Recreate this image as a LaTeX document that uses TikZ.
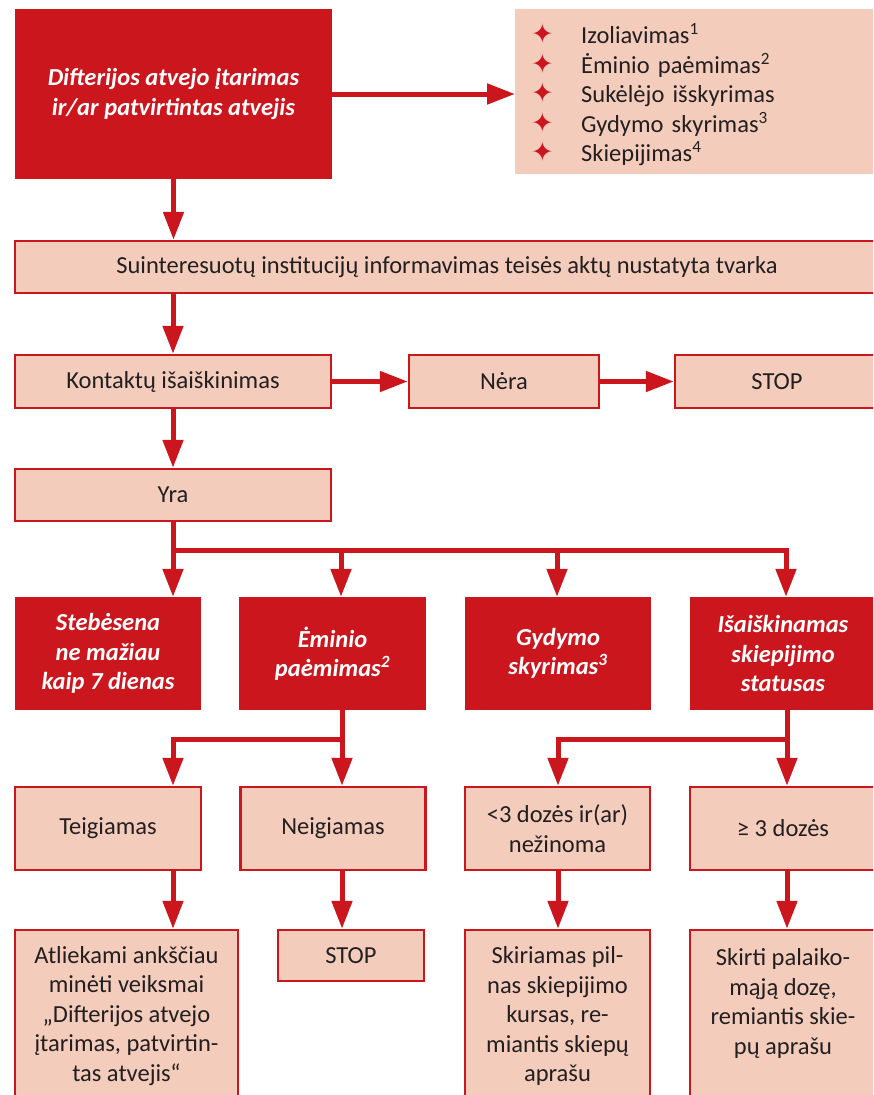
\documentclass[tikz,border=0pt]{standalone}
\usepackage{fontspec}
\setmainfont{Carlito}
\newfontfamily\dejavu{DejaVu Sans}
\usetikzlibrary{arrows.meta}
\definecolor{rd}{RGB}{204,22,30}
\definecolor{pk}{RGB}{243,204,188}
\definecolor{txt}{RGB}{35,31,32}
\newcommand{\fs}{\fontsize{24.5}{29.5}\selectfont}
\newcommand{\zv}{\makebox[50pt][l]{\dejavu\bfseries\color{rd}\fontsize{27}{29.5}\selectfont ✦}}
\begin{document}
\begin{tikzpicture}[x=1pt,y=-1pt,
	rbox/.style={fill=rd,text=white,font=\fs\bfseries\itshape,align=center,inner sep=0pt},
	lbox/.style={fill=pk,draw=rd,line width=2.5pt,text=txt,font=\fs,align=center,inner sep=0pt},
	ln/.style={draw=rd,line width=5pt},
	arr/.style={ln,-{Triangle[width=20pt,length=28pt]}}]
	\useasboundingbox (0,0) rectangle (873,1095);
	\clip (0,0) rectangle (873,1095);
	\node [rbox,minimum width=317,minimum height=170] (dift) at (173.5,94) {Difterijos atvejo įtarimas\\ir/ar patvirtintas atvejis};
	\node [fill=pk,text=txt,font=\fs,minimum width=365,minimum height=165,inner xsep=16pt,text width=333,align=left,anchor=north west] (veiks) at (515,9)
		{\raisebox{-5pt}[\height][\depth]{\begin{tabular}{@{}l@{}l@{}}
		\zv & Izoliavimas\textsuperscript{1}\\
		\zv & Ėminio paėmimas\textsuperscript{2}\\
		\zv & Sukėlėjo išskyrimas\\
		\zv & Gydymo skyrimas\textsuperscript{3}\\
		\zv & Skiepijimas\textsuperscript{4}
		\end{tabular}}};
	\node [lbox,minimum width=864,minimum height=52] (suint) at (447,267) {Suinteresuotų institucijų informavimas teisės aktų nustatyta tvarka};
	\node [lbox,minimum width=316,minimum height=53] (kont) at (173,381.5) {Kontaktų išaiškinimas};
	\node [lbox,minimum width=190,minimum height=53] (nera) at (504,381.5) {Nėra};
	\node [lbox,minimum width=204,minimum height=53] (stopa) at (777,381.5) {STOP};
	\node [lbox,minimum width=316,minimum height=52] (yra) at (173,495) {Yra};
	\node [rbox,minimum width=186,minimum height=113] (steb) at (108,653.5) {Stebėsena\\ne mažiau\\kaip 7 dienas};
	\node [rbox,minimum width=187,minimum height=113] (emin) at (332.5,653.5) {Ėminio\\paėmimas\textsuperscript{2}};
	\node [rbox,minimum width=186,minimum height=113] (gyd) at (558,653.5) {Gydymo\\skyrimas\textsuperscript{3}};
	\node [rbox,minimum width=186,minimum height=113] (isai) at (783,653.5) {Išaiškinamas\\skiepijimo\\statusas};
	\node [lbox,minimum width=186,minimum height=83] (teig) at (108,828.5) {Teigiamas};
	\node [lbox,minimum width=185,minimum height=83] (neig) at (333,828.5) {Neigiamas};
	\node [lbox,minimum width=185,minimum height=83] (maz) at (557.5,828.5) {<3 dozės ir(ar)\\nežinoma};
	\node [lbox,minimum width=186,minimum height=83] (daug) at (783,828.5) {≥ 3 dozės};
	\node [lbox,minimum width=223,minimum height=172] (atl) at (126.5,1016) {Atliekami ankščiau\\minėti veiksmai\\„Difterijos atvejo\\įtarimas, patvirtin-\\tas atvejis“};
	\node [lbox,minimum width=146,minimum height=51] (stopb) at (351,955.5) {STOP};
	\node [lbox,minimum width=185,minimum height=172] (skir) at (557.5,1016) {Skiriamas pil-\\nas skiepijimo\\kursas, re-\\miantis skiepų\\aprašu};
	\node [lbox,minimum width=186,minimum height=172] (palk) at (783,1016) {Skirti palaiko-\\mąją dozę,\\remiantis skie-\\pų aprašu\\\mbox{}};
	\coordinate (b1) at (173,550);
	\coordinate (b2) at (341,550);
	\coordinate (b3) at (557,550);
	\coordinate (b4) at (786,550);
	\coordinate (d1) at (173,739);
	\coordinate (d2) at (342,739);
	\coordinate (d3) at (558,739);
	\coordinate (d4) at (787,739);
	\draw [arr] (dift.east) -- (dift.east -| veiks.west);
	\draw [arr] (dift.south) -- (dift.south |- suint.north);
	\draw [arr] (kont.north |- suint.south) -- (kont.north);
	\draw [arr] (kont.east) -- (nera.west);
	\draw [arr] (nera.east) -- (stopa.west);
	\draw [arr] (kont.south) -- (yra.north);
	\draw [arr] (yra.south) -- (b1) -- (b4) -- (b4 |- isai.north);
	\draw [arr] (b1) -- (b1 |- steb.north);
	\draw [arr] (b2) -- (b2 |- emin.north);
	\draw [arr] (b3) -- (b3 |- gyd.north);
	\draw [arr] (d2 |- emin.south) -- (d2 |- neig.north);
	\draw [arr] (d2) -- (d1) -- (d1 |- teig.north);
	\draw [arr] (d4 |- isai.south) -- (d4 |- daug.north);
	\draw [arr] (d4) -- (d3) -- (d3 |- maz.north);
	\draw [arr] (d1 |- teig.south) -- (d1 |- atl.north);
	\draw [arr] (d2 |- neig.south) -- (d2 |- stopb.north);
	\draw [arr] (d3 |- maz.south) -- (d3 |- skir.north);
	\draw [arr] (d4 |- daug.south) -- (d4 |- palk.north);
\end{tikzpicture}
\end{document}
